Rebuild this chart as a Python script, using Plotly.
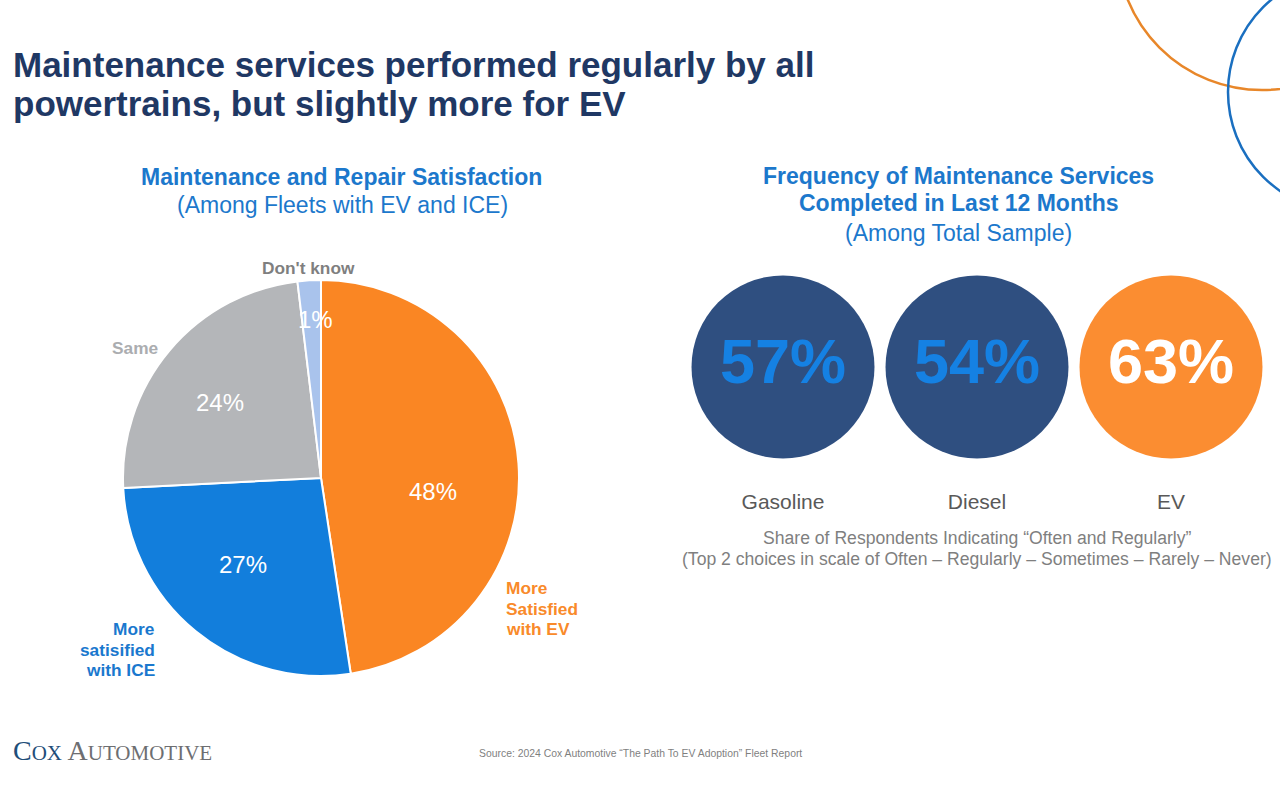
import math
import plotly.graph_objects as go

W, H = 1280, 787


def px(x):
    return x / W


def py(y):
    return 1 - y / H


# ---------------- data ----------------
segments = ["More Satisfied with EV", "More satisified with ICE", "Same", "Don't know"]
seg_share = [47.6, 26.6, 23.9, 1.9]          # slice sizes
seg_text = ["48%", "27%", "24%", "1%"]        # printed labels
seg_colors = ["#FA8623", "#127EDC", "#B4B6B9", "#A9C3EC"]

powertrains = ["Gasoline", "Diesel", "EV"]
freq = [57, 54, 63]
circle_colors = ["#2F4F80", "#2F4F80", "#FB8D31"]
value_colors = ["#1581E3", "#1581E3", "#FFFFFF"]

FONT = "Arial, Liberation Sans, sans-serif"

fig = go.Figure()

# ---------------- pie ----------------
pie_x0, pie_x1, pie_top, pie_bot = 123, 519, 280, 676
fig.add_trace(go.Pie(
    labels=segments,
    values=seg_share,
    sort=False,
    direction="clockwise",
    rotation=0,
    marker=dict(colors=seg_colors, line=dict(color="white", width=2)),
    textinfo="none",
    hoverinfo="skip",
    showlegend=False,
    domain=dict(x=[px(pie_x0), px(pie_x1)], y=[py(pie_bot), py(pie_top)]),
))

annotations = []

# percentage labels inside the pie, placed from the data angles
cx, cy = (pie_x0 + pie_x1) / 2, (pie_top + pie_bot) / 2
R = (pie_x1 - pie_x0) / 2
rfrac = [0.57, 0.59, 0.635, 0.80]
dang = [11.4, 2.7, -3.5, 1.6]   # small angular nudges of the label placement (degrees)
total = sum(seg_share)
cum = 0
for v, t, rf, da in zip(seg_share, seg_text, rfrac, dang):
    mid = (cum + v / 2) / total * 2 * math.pi + math.radians(da)
    cum += v
    lx = cx + rf * R * math.sin(mid)
    ly = cy - rf * R * math.cos(mid)
    annotations.append(dict(x=px(lx), y=py(ly), text=t, xanchor="center",
                            font=dict(family=FONT, size=24, color="white")))


def lines(txt_lines, x, y0, dy, anchor, color, size, bold=True):
    out = []
    for i, s in enumerate(txt_lines):
        out.append(dict(x=px(x), y=py(y0 + i * dy),
                        text=f"<b>{s}</b>" if bold else s, xanchor=anchor,
                        font=dict(family=FONT, size=size, color=color)))
    return out


# outside pie labels
annotations += lines(["Don't know"], 308, 268, 0, "center", "#7F7F7F", 17.3)
annotations += lines(["Same"], 135, 348, 0, "center", "#ABADB0", 17.3)
annotations += lines(["More", "satisified", "with ICE"], 157, 629, 20.5, "right", "#1A78CE", 17.3)
annotations += lines(["More", "Satisfied", "with EV"], 504, 588, 20.5, "left", "#F98A2A", 17.3)

# ---------------- circles ----------------
fig.add_trace(go.Scatter(
    x=powertrains,
    y=[0] * len(powertrains),
    mode="markers+text",
    marker=dict(size=183, color=circle_colors, line=dict(width=0)),
    text=[f"{v}%" for v in freq],
    textposition="middle center",
    textfont=dict(family=FONT, size=63, color=value_colors, weight="bold"),
    hoverinfo="skip",
    showlegend=False,
    cliponaxis=False,
))

# ---------------- texts ----------------
title_col = "#1F3864"
blue_col = "#1C78CC"
annotations += lines(["Maintenance services performed regularly by all",
                      "powertrains, but slightly more for EV"], 11, 65, 38.5, "left", title_col, 35)
annotations += lines(["Maintenance and Repair Satisfaction"], 341, 177, 0, "center", blue_col, 23)
annotations += lines(["(Among Fleets with EV and ICE)"], 342, 205, 0, "center", blue_col, 23, bold=False)
annotations += lines(["Frequency of Maintenance Services",
                      "Completed in Last 12 Months"], 958, 176, 27, "center", blue_col, 23)
annotations += lines(["(Among Total Sample)"], 958, 233, 0, "center", blue_col, 23, bold=False)
annotations += lines(["Share of Respondents Indicating \u201cOften and Regularly\u201d",
                      "(Top 2 choices in scale of Often \u2013 Regularly \u2013 Sometimes \u2013 Rarely \u2013 Never)"],
                     977, 538, 20.5, "center", "#7F7F7F", 17.6, bold=False)
annotations += lines(["Source: 2024 Cox Automotive \u201cThe Path To EV Adoption\u201d Fleet Report"],
                     640, 753, 0, "center", "#7F7F7F", 10.4, bold=False)
annotations.append(dict(
    x=px(11), y=py(750),
    text="<span style='color:#1F4E79'>C<span style='font-size:21px'>OX</span></span>"
         "<span style='color:#6D6E71'> A<span style='font-size:21px'>UTOMOTIVE</span></span>",
    xanchor="left", font=dict(family="Liberation Serif, Times New Roman, serif", size=28)))

for a in annotations:
    a.setdefault("xref", "paper")
    a.setdefault("yref", "paper")
    a.setdefault("showarrow", False)
    a.setdefault("yanchor", "middle")

# decorative rings in the top-right corner
shapes = [
    dict(type="circle", xref="paper", yref="paper",
         x0=px(1117), x1=px(1407), y0=py(90), y1=py(-200),
         line=dict(color="#E8872A", width=2.5)),
    dict(type="circle", xref="paper", yref="paper",
         x0=px(1228), x1=px(1468), y0=py(212), y1=py(-28),
         line=dict(color="#1A6FC0", width=2.5)),
]

fig.update_layout(
    width=W, height=H,
    margin=dict(l=0, r=0, t=0, b=0),
    paper_bgcolor="white",
    plot_bgcolor="rgba(0,0,0,0)",
    annotations=annotations,
    shapes=shapes,
    xaxis=dict(domain=[px(686), px(1268)], range=[-0.5, 2.5], type="category",
               categoryorder="array", categoryarray=powertrains,
               showgrid=False, zeroline=False, showline=False, ticks="",
               tickfont=dict(family=FONT, size=21, color="#595959"), fixedrange=True),
    yaxis=dict(domain=[py(487), py(247)], range=[-1, 1], visible=False, fixedrange=True),
    hovermode=False,
)

fig.write_html("out.html")
